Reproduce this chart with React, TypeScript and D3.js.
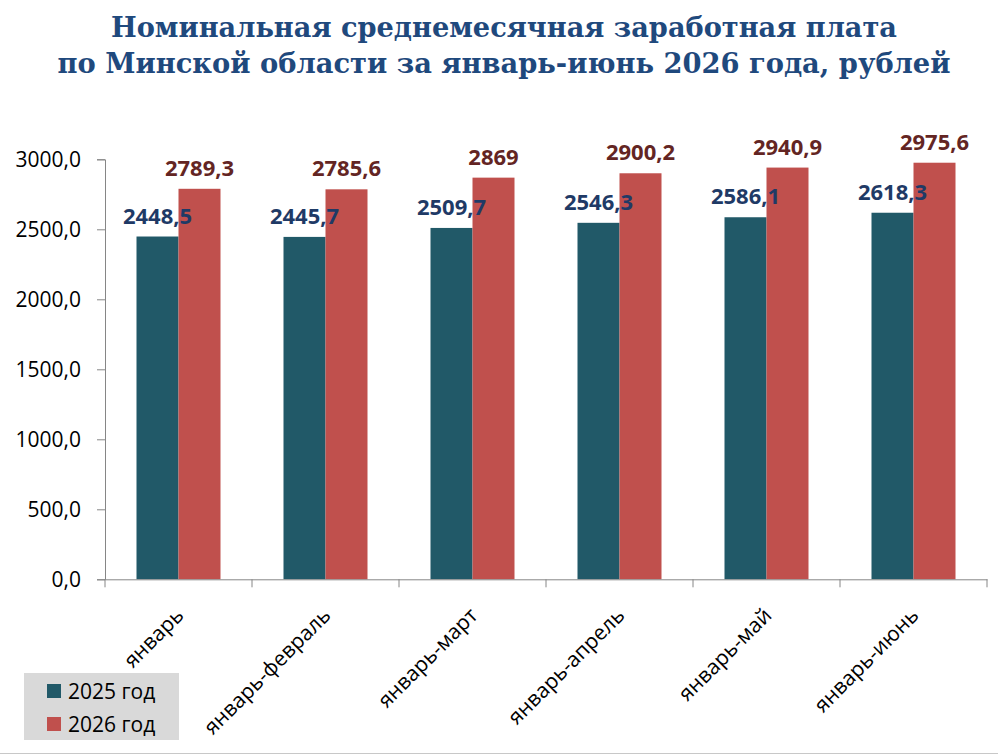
import React, { useEffect, useRef } from "react";
import * as d3 from "d3";

const categories = [
  "январь",
  "январь-февраль",
  "январь-март",
  "январь-апрель",
  "январь-май",
  "январь-июнь",
];
const values2025 = [2448.5, 2445.7, 2509.7, 2546.3, 2586.1, 2618.3];
const values2026 = [2789.3, 2785.6, 2869, 2900.2, 2940.9, 2975.6];
const seriesNames = ["2025 год", "2026 год"];
const yTicks = [0, 500, 1000, 1500, 2000, 2500, 3000];
const titleLines = [
  "Номинальная среднемесячная заработная плата",
  "по Минской области за январь-июнь 2026 года, рублей",
];

const W = 998;
const H = 755;
const barColors = ["#215968", "#C0504D"];
const labelColors = ["#1F3A66", "#632523"];
const uiFont = "'Open Sans', 'Noto Sans', sans-serif";

const App: React.FC = () => {
  const svgRef = useRef<SVGSVGElement>(null);

  useEffect(() => {
    if (!svgRef.current) return;
    const svg = d3.select(svgRef.current);
    svg.selectAll("*").remove();

    const margin = { top: 159.3, right: 11, bottom: 175.7, left: 105 };
    const innerWidth = W - margin.left - margin.right;
    const innerHeight = H - margin.top - margin.bottom;

    svg.append("rect").attr("width", W).attr("height", H).attr("fill", "#ffffff");

    // title
    const titleWidths = [786, 893];
    titleLines.forEach((t, i) => {
      svg
        .append("text")
        .attr("x", 504)
        .attr("y", 37 + i * 36)
        .attr("text-anchor", "middle")
        .attr("fill", "#1F497D")
        .attr("textLength", titleWidths[i])
        .attr("lengthAdjust", "spacingAndGlyphs")
        .style("font-family", "'DejaVu Serif', serif")
        .style("font-weight", "bold")
        .style("font-size", "28px")
        .text(t);
    });

    const g = svg.append("g").attr("transform", `translate(${margin.left},${margin.top})`);

    const x0 = d3.scaleBand<string>().domain(categories).range([0, innerWidth]).paddingInner(0).paddingOuter(0);
    const x1 = d3
      .scaleBand<number>()
      .domain([0, 1])
      .range([0, 84])
      .padding(0);
    const y = d3.scaleLinear().domain([0, 3000]).range([innerHeight, 0]);

    const groupOffset = (x0.bandwidth() - 84) / 2;
    const barX = (i: number, s: number) => (x0(categories[i]) ?? 0) + groupOffset + (x1(s) ?? 0);

    const series = [values2025, values2026];
    series.forEach((vals, s) => {
      g.selectAll(`.bar-${s}`)
        .data(vals)
        .join("rect")
        .attr("class", `bar-${s}`)
        .attr("x", (_d, i) => barX(i, s))
        .attr("y", (d) => y(d))
        .attr("width", x1.bandwidth())
        .attr("height", (d) => innerHeight - y(d))
        .attr("fill", barColors[s]);
    });

    series.forEach((vals, s) => {
      g.selectAll(`.lbl-${s}`)
        .data(vals)
        .join("text")
        .attr("class", `lbl-${s}`)
        .attr("x", (_d, i) => barX(i, s) + x1.bandwidth() / 2)
        .attr("y", (d) => y(d) - 13)
        .attr("text-anchor", "middle")
        .attr("fill", labelColors[s])
        .style("font-family", uiFont)
        .style("font-weight", "bold")
        .style("font-size", "22px")
        .text((d) => String(d).replace(".", ","));
    });

    // y axis
    const yAxis = g
      .append("g")
      .call(
        d3
          .axisLeft(y)
          .tickValues(yTicks)
          .tickSize(8)
          .tickPadding(16)
          .tickFormat((d) => (d as number).toFixed(1).replace(".", ","))
      );
    yAxis.selectAll("path, line").attr("stroke", "#868686");
    yAxis
      .selectAll("text")
      .attr("fill", "#000")
      .style("font-family", uiFont)
      .style("font-size", "21px");

    // x axis
    const xAxis = g
      .append("g")
      .attr("transform", `translate(0,${innerHeight})`)
      .call(d3.axisBottom(x0).tickSize(0).tickFormat(() => ""));
    xAxis.select("path").attr("stroke", "#868686");
    const bounds = d3.range(categories.length + 1).map((i) => i * x0.step());
    xAxis
      .selectAll(".sep")
      .data(bounds)
      .join("line")
      .attr("class", "sep")
      .attr("x1", (d) => d)
      .attr("x2", (d) => d)
      .attr("y1", 0)
      .attr("y2", 8)
      .attr("stroke", "#868686");

    g.selectAll(".xlbl")
      .data(categories)
      .join("text")
      .attr("class", "xlbl")
      .attr(
        "transform",
        (d) => `translate(${(x0(d) ?? 0) + x0.bandwidth() / 2 - 4},${innerHeight + 27}) rotate(-45)`
      )
      .attr("text-anchor", "end")
      .attr("dy", "0.7em")
      .attr("fill", "#000")
      .style("font-family", uiFont)
      .style("font-size", "21px")
      .text((d) => d);

    // legend
    const lg = svg.append("g").attr("transform", "translate(24,673)");
    lg.append("rect").attr("width", 155).attr("height", 67).attr("fill", "#D9D9D9");
    seriesNames.forEach((name, i) => {
      lg.append("rect")
        .attr("x", 23)
        .attr("y", 11 + i * 33)
        .attr("width", 14)
        .attr("height", 14)
        .attr("fill", barColors[i]);
      lg.append("text")
        .attr("x", 44)
        .attr("y", 25.5 + i * 33)
        .attr("fill", "#000")
        .style("font-family", uiFont)
        .style("font-size", "21px")
        .text(name);
    });

    // frame bottom edge
    svg
      .append("line")
      .attr("x1", 0)
      .attr("x2", W)
      .attr("y1", 753.5)
      .attr("y2", 753.5)
      .attr("stroke", "#C8C8C8");
  }, []);

  return (
    <svg
      ref={svgRef}
      width={W}
      height={H}
      style={{ position: "absolute", left: 0, top: 0, display: "block" }}
    />
  );
};

export default App;
